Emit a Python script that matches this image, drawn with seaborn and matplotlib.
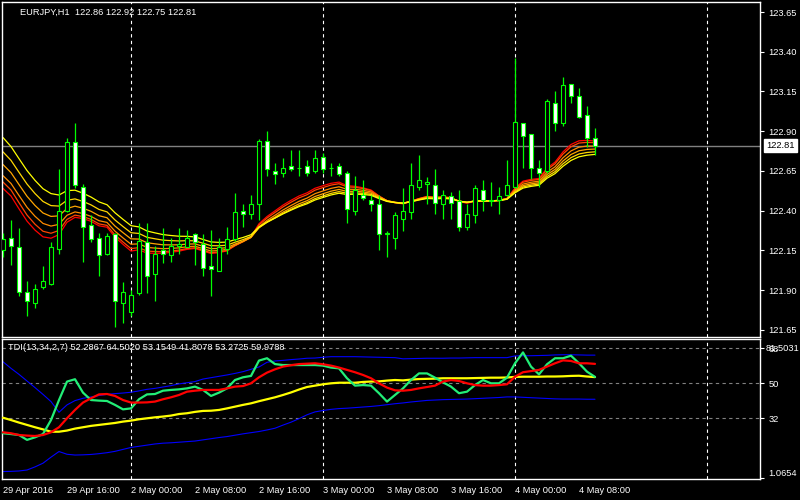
import numpy as np
import pandas as pd
import seaborn as sns
import matplotlib.pyplot as plt
import matplotlib.transforms as mtransforms

# EURJPY H1 candles, 29 Apr 2016 08:00 .. 4 May 2016 10:00
opens = [122.15, 122.23, 122.17, 121.89, 121.82, 121.92, 121.94, 122.16, 122.40, 122.83,
         122.55, 122.31, 122.23, 122.13, 122.25, 121.82, 121.76, 121.88, 122.20, 122.00,
         122.15, 122.12, 122.18, 122.17, 122.25, 122.19, 122.05, 122.02, 122.16, 122.22,
         122.40, 122.38, 122.44, 122.84, 122.65, 122.64, 122.68, 122.67, 122.68, 122.65,
         122.74, 122.67, 122.68, 122.64, 122.40, 122.50, 122.47, 122.44, 122.25, 122.23,
         122.35, 122.39, 122.55, 122.57, 122.56, 122.44, 122.49, 122.46, 122.30, 122.37,
         122.53, 122.47, 122.47, 122.50, 122.55, 122.95, 122.88, 122.67, 122.65, 123.08,
         122.95, 123.20, 123.12, 123.00, 122.86]
highs = [122.26, 122.34, 122.29, 121.96, 121.94, 122.05, 122.20, 122.66, 122.86, 122.95,
         122.57, 122.37, 122.26, 122.26, 122.26, 121.95, 121.90, 122.32, 122.32, 122.18,
         122.29, 122.23, 122.29, 122.28, 122.26, 122.25, 122.28, 122.23, 122.30, 122.51,
         122.44, 122.50, 122.85, 122.90, 122.70, 122.73, 122.78, 122.78, 122.72, 122.78,
         122.76, 122.70, 122.70, 122.65, 122.62, 122.59, 122.50, 122.50, 122.27, 122.39,
         122.54, 122.70, 122.75, 122.61, 122.66, 122.53, 122.52, 122.53, 122.44, 122.56,
         122.59, 122.58, 122.55, 122.72, 123.36, 122.95, 122.88, 122.72, 123.10, 123.15,
         123.24, 123.20, 123.17, 123.06, 122.92]
lows = [122.11, 122.06, 121.86, 121.74, 121.79, 121.91, 121.93, 122.13, 122.39, 122.54,
        122.08, 122.20, 121.99, 122.12, 121.67, 121.69, 121.74, 121.87, 121.88, 121.83,
        122.07, 122.08, 122.13, 122.17, 122.06, 121.99, 121.86, 122.02, 122.13, 122.21,
        122.30, 122.35, 122.34, 122.62, 122.57, 122.61, 122.65, 122.62, 122.62, 122.64,
        122.64, 122.62, 122.62, 122.32, 122.37, 122.47, 122.40, 122.15, 122.11, 122.16,
        122.27, 122.35, 122.53, 122.44, 122.38, 122.35, 122.35, 122.27, 122.28, 122.32,
        122.40, 122.43, 122.38, 122.49, 122.54, 122.67, 122.60, 122.55, 122.64, 122.90,
        122.93, 123.08, 122.98, 122.80, 122.75]
closes = [122.22, 122.18, 121.89, 121.83, 121.91, 121.96, 122.17, 122.40, 122.83, 122.56,
          122.30, 122.22, 122.12, 122.24, 121.83, 121.89, 121.87, 122.21, 121.99, 122.13,
          122.13, 122.18, 122.19, 122.23, 122.20, 122.04, 122.03, 122.17, 122.22, 122.39,
          122.38, 122.44, 122.84, 122.66, 122.63, 122.67, 122.66, 122.67, 122.64, 122.73,
          122.66, 122.67, 122.63, 122.41, 122.53, 122.48, 122.44, 122.25, 122.26, 122.37,
          122.40, 122.56, 122.59, 122.58, 122.45, 122.50, 122.45, 122.30, 122.38, 122.54,
          122.47, 122.46, 122.49, 122.56, 122.96, 122.87, 122.67, 122.64, 123.09, 122.95,
          123.19, 123.12, 122.99, 122.86, 122.81]

# moving average ribbon: value at the first bar and period
ma_start = [122.54, 122.58, 122.62, 122.69, 122.77, 122.86]
ma_period = [14, 15, 17, 19, 21, 23]
ma_colors = ['#ff0000', '#ff4500', '#ff8c00', '#ffa500', '#ffd700', '#ffff00']

# TDI(13,34,2,7)
tdi_price = [24.3, 23.9, 23.4, 20.9, 22.2, 23.9, 31.1, 41.4, 50.9, 52.1,
             45.2, 41.4, 41.1, 40.9, 38.9, 36.6, 37.1, 41.8, 44.3, 44.5,
             46.2, 46.6, 46.9, 47.4, 48.3, 46.6, 43.5, 45.2, 47.4, 51.7,
             53.1, 53.8, 61.7, 62.9, 59.9, 59.4, 59.4, 59.4, 59.4, 59.4,
             59.1, 58.1, 57.7, 52.6, 48.8, 49.1, 48.8, 44.9, 40.6, 44.0,
             47.4, 51.7, 55.1, 55.1, 52.9, 50.5, 48.3, 44.9, 45.7, 49.1,
             51.7, 50.0, 50.0, 52.9, 60.3, 65.9, 58.6, 54.6, 59.8, 62.9,
             62.9, 64.2, 60.3, 56.0, 53.3]
tdi_signal = [24.8, 24.3, 23.4, 23.1, 22.9, 23.4, 24.8, 27.4, 32.0, 36.3,
              40.1, 42.3, 44.3, 44.5, 43.5, 41.4, 40.1, 40.1, 40.2, 40.6,
              41.8, 42.8, 44.0, 45.7, 46.2, 46.6, 46.6, 46.6, 47.4, 48.3,
              48.6, 50.0, 53.1, 55.5, 57.2, 58.6, 59.3, 59.9, 60.1, 60.3,
              59.8, 59.1, 58.1, 56.9, 55.7, 54.3, 52.6, 50.0, 47.8, 46.4,
              46.2, 46.6, 47.4, 48.1, 48.8, 50.9, 51.7, 51.2, 50.0, 49.1,
              48.8, 48.8, 49.1, 49.5, 53.4, 55.7, 56.3, 56.9, 58.6, 60.3,
              61.8, 61.5, 60.3, 60.3, 60.0]
tdi_base = [32.3, 31.1, 29.8, 28.6, 27.4, 26.3, 25.1, 25.1, 25.7, 26.7,
            27.4, 28.1, 28.6, 29.1, 29.6, 30.3, 30.8, 31.5, 32.0, 32.5,
            32.9, 33.4, 34.2, 34.6, 35.3, 35.8, 35.9, 36.3, 37.1, 38.0,
            38.9, 39.7, 40.8, 41.8, 42.8, 44.0, 45.3, 46.8, 48.1, 48.8,
            49.5, 50.0, 50.3, 50.3, 50.3, 50.7, 50.9, 51.0, 51.4, 51.7,
            51.5, 51.9, 52.2, 52.3, 52.4, 52.6, 52.6, 52.6, 52.6, 52.7,
            52.8, 52.9, 52.9, 53.0, 53.3, 53.4, 53.4, 53.4, 53.5, 53.5,
            53.6, 53.8, 53.9, 53.5, 53.2]
tdi_upper = [61.1, 57.7, 54.6, 51.2, 47.8, 44.3, 40.6, 35.1, 38.9, 41.1,
             42.3, 43.0, 43.7, 44.3, 44.7, 45.0, 45.4, 46.1, 46.9, 47.4,
             48.1, 48.8, 49.7, 50.3, 50.9, 52.2, 52.9, 53.6, 54.3, 55.1,
             56.0, 57.2, 58.4, 60.8, 61.5, 61.8, 62.2, 62.5, 62.9, 63.0,
             63.4, 63.7, 63.7, 63.7, 63.7, 63.6, 63.5, 63.4, 63.3, 63.2,
             62.6, 62.7, 62.8, 62.9, 62.9, 62.9, 63.0, 63.0, 63.1, 63.2,
             63.2, 63.2, 63.2, 63.2, 64.1, 64.2, 64.2, 64.3, 64.4, 64.6,
             64.7, 64.7, 64.6, 64.5, 64.5]
tdi_lower = [4.6, 4.7, 4.9, 5.4, 7.0, 8.9, 12.0, 14.9, 13.5, 13.1,
             13.2, 13.4, 13.8, 14.3, 15.0, 16.0, 17.0, 17.6, 18.2, 18.8,
             19.2, 19.4, 19.7, 20.0, 20.3, 20.9, 21.5, 22.1, 22.6, 23.3,
             24.0, 24.6, 25.2, 26.0, 26.9, 28.5, 30.0, 31.8, 33.8, 35.3,
             36.0, 36.6, 37.0, 37.2, 37.5, 37.8, 38.1, 38.5, 39.0, 39.5,
             39.9, 40.4, 40.8, 41.2, 41.4, 41.6, 41.7, 41.8, 41.9, 42.1,
             42.3, 42.5, 42.7, 43.0, 43.0, 42.8, 42.6, 42.4, 42.2, 42.0,
             41.9, 41.9, 41.9, 41.8, 41.8]
tdi_levels = [68, 50, 32]

price_ticks = [121.65, 121.90, 122.15, 122.40, 122.65, 122.90, 123.15, 123.40, 123.65]
time_ticks = [0, 8, 16, 24, 32, 40, 48, 56, 64, 72]
time_labels = ['29 Apr 2016', '29 Apr 16:00', '2 May 00:00', '2 May 08:00', '2 May 16:00',
               '3 May 00:00', '3 May 08:00', '3 May 16:00', '4 May 00:00', '4 May 08:00']
day_breaks = [16, 40, 64, 88]

df = pd.DataFrame({'bar': np.arange(len(closes)), 'open': opens, 'high': highs,
                   'low': lows, 'close': closes})

# exponential moving averages of the close, starting from the values seen at the left edge
for k, (start, n) in enumerate(zip(ma_start, ma_period)):
    a = 2.0 / (n + 1)
    vals = [start]
    for c in closes[1:]:
        vals.append(vals[-1] + a * (c - vals[-1]))
    df[f'ma{k}'] = vals

sns.set_theme(style='dark', rc={'axes.facecolor': 'black', 'figure.facecolor': 'black',
                                'axes.edgecolor': 'white', 'text.color': 'white',
                                'xtick.color': 'white', 'ytick.color': 'white',
                                'axes.labelcolor': 'white'})
plt.rcParams['font.family'] = ['Liberation Sans', 'DejaVu Sans']
fs = 6.7

fig = plt.figure(figsize=(8, 5), dpi=100)
ax = fig.add_axes([2 / 800, 163 / 500, 758 / 800, 335 / 500])
ax2 = fig.add_axes([2 / 800, 21 / 500, 758 / 800, 140 / 500])

for a_ in (ax, ax2):
    a_.set_facecolor('black')
    for s in a_.spines.values():
        s.set_color('white')
        s.set_linewidth(1)
    a_.set_xlim(-0.125, 94.625)
    a_.grid(False)
    for d in day_breaks:
        a_.axvline(d, color='white', lw=0.8, ls=(0, (3, 3)), zorder=1)

# price panel
ax.set_ylim(121.605, 123.713)
ax.axhline(closes[-1], color='#808080', lw=1, zorder=1.5)

for k in range(len(ma_start)):
    sns.lineplot(data=df, x='bar', y=f'ma{k}', color=ma_colors[k], lw=0.9, ax=ax, zorder=2)

ax.vlines(df['bar'], df['low'], df['high'], color='#00ff00', lw=0.9, zorder=3)
bull = df['close'] >= df['open']
body_lo = np.minimum(df['open'], df['close'])
body_h = (df['close'] - df['open']).abs()
ax.bar(df['bar'][bull], body_h[bull], bottom=body_lo[bull], width=0.6,
       color='black', edgecolor='#00ff00', lw=0.8, zorder=4)
ax.bar(df['bar'][~bull], body_h[~bull], bottom=body_lo[~bull], width=0.6,
       color='white', edgecolor='#00ff00', lw=0.8, zorder=4)

ax.yaxis.tick_right()
ax.set_yticks(price_ticks)
ax.set_yticklabels([f'{p:.2f}' for p in price_ticks], fontsize=fs)
ax.tick_params(axis='y', length=3, width=0.8, pad=3, colors='white')
ax.set_xticks([])
ax.set_xlabel('')
ax.set_ylabel('')

tr = mtransforms.blended_transform_factory(fig.transFigure, ax.transData)
ax.text(766 / 800, closes[-1], f'{closes[-1]:.2f}', transform=tr, ha='left', va='center',
        fontsize=fs, color='black',
        bbox=dict(boxstyle='square,pad=0.25', facecolor='white', edgecolor='white'))
ax.text(18 / 758, 1 - 10 / 335, 'EURJPY,H1  {:.2f} {:.2f} {:.2f} {:.2f}'.format(
    opens[-1], highs[-1], lows[-1], closes[-1]), transform=ax.transAxes,
    ha='left', va='center', fontsize=fs, color='white')

# TDI panel
ax2.set_ylim(0.77, 72.8)
for lv in tdi_levels:
    ax2.axhline(lv, color='#808080', lw=0.8, ls=(0, (3, 3)), zorder=1)

tdi = pd.DataFrame({'bar': df['bar'], 'price': tdi_price, 'signal': tdi_signal,
                    'base': tdi_base, 'upper': tdi_upper, 'lower': tdi_lower})
sns.lineplot(data=tdi, x='bar', y='upper', color='#0000ff', lw=0.8, ax=ax2, zorder=2)
sns.lineplot(data=tdi, x='bar', y='lower', color='#0000ff', lw=0.8, ax=ax2, zorder=2)
sns.lineplot(data=tdi, x='bar', y='base', color='#ffff00', lw=1.6, ax=ax2, zorder=3)
sns.lineplot(data=tdi, x='bar', y='price', color='#22ee77', lw=1.6, ax=ax2, zorder=4)
sns.lineplot(data=tdi, x='bar', y='signal', color='#ff0000', lw=1.6, ax=ax2, zorder=5)

ax2.yaxis.tick_right()
ax2.set_yticks(tdi_levels + [1.0654])
ax2.set_yticklabels(['68', '50', '32', '1.0654'], fontsize=fs)
ax2.get_yticklabels()[-1].set_va('bottom')
ax2.tick_params(axis='y', length=3, width=0.8, pad=3, colors='white')
tr2 = mtransforms.blended_transform_factory(fig.transFigure, ax2.transData)
ax2.text(766 / 800, 68, '81.5031', transform=tr2, ha='left', va='center',
         fontsize=fs, color='white')

ax2.set_xticks(time_ticks)
ax2.set_xticklabels(time_labels, fontsize=fs, ha='left')
ax2.tick_params(axis='x', length=3, width=0.8, pad=2, colors='white')
ax2.set_xlabel('')
ax2.set_ylabel('')
ax2.text(6 / 758, 1 - 8 / 140, 'TDI(13,34,2,7) 52.2867 64.5020 53.1549 41.8078 53.2725 59.9788',
         transform=ax2.transAxes, ha='left', va='center', fontsize=fs, color='white')

fig.savefig('out.png', dpi=100, facecolor='black')
